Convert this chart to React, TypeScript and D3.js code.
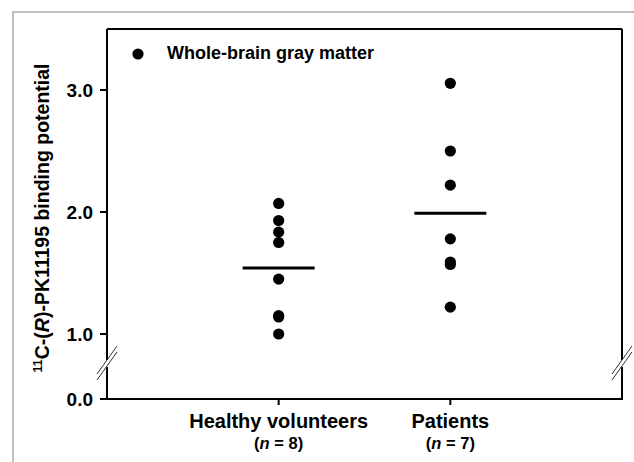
import React from 'react'
import * as d3 from 'd3'

const groups = ['Healthy volunteers', 'Patients']
const groupN = ['8', '7']
const healthy = [2.07, 1.93, 1.835, 1.75, 1.45, 1.15, 1.14, 1.0]
const patients = [3.055, 2.5, 2.22, 1.78, 1.59, 1.57, 1.22]
const yTicks = [1.0, 2.0, 3.0]
const legendLabel = 'Whole-brain gray matter'

const W = 634
const H = 462
const font = '"Liberation Sans", Arial, sans-serif'

export default function App() {
  const left = 107
  const right = 622
  const top = 29
  const bottom = 399
  const breakY = 363

  const x = d3.scalePoint<string>().domain(groups).range([left, right]).padding(1)
  const y = d3.scaleLinear().domain([1, 3.5]).range([334, top])
  const mean = (a: number[]) => d3.mean(a) as number
  const series = [healthy, patients]

  // zig marks where the axis is broken
  const breakMarks = (ax: number) => (
    <g stroke="#333" strokeWidth={1}>
      <line x1={ax - 10} y1={breakY + 11} x2={ax + 10} y2={breakY - 17} />
      <line x1={ax - 10} y1={breakY + 17} x2={ax + 10} y2={breakY - 11} />
    </g>
  )

  return (
    <svg width={W} height={H} style={{ position: 'absolute', left: 0, top: 0, background: '#fff' }} fontFamily={font}>
      <rect x={13} y={12} width={700} height={500} fill="none" stroke="#aaa" strokeWidth={1.5} />

      {/* axes frame */}
      <g stroke="#000" strokeWidth={2} fill="none">
        <line x1={left} y1={top} x2={right} y2={top} />
        <line x1={left - 1} y1={bottom} x2={right + 1} y2={bottom} />
        <line x1={left} y1={top} x2={left} y2={breakY - 3} />
        <line x1={left} y1={breakY + 4} x2={left} y2={bottom} />
        <line x1={right} y1={top} x2={right} y2={breakY - 3} />
        <line x1={right} y1={breakY + 4} x2={right} y2={bottom} />
        {yTicks.map(t => (
          <line key={t} x1={left - 7} x2={left} y1={y(t)} y2={y(t)} />
        ))}
        <line x1={left - 7} x2={left} y1={bottom} y2={bottom} />
        {groups.map(g => (
          <line key={g} x1={x(g)} x2={x(g)} y1={bottom} y2={bottom + 6} />
        ))}
      </g>
      {breakMarks(left)}
      {breakMarks(right)}

      {/* tick labels */}
      <g fontSize={19} fontWeight="bold" textAnchor="end">
        {yTicks.map(t => (
          <text key={t} x={left - 14} y={y(t) + 7}>{t.toFixed(1)}</text>
        ))}
        <text x={left - 14} y={bottom + 7}>0.0</text>
      </g>

      {groups.map((g, i) => (
        <g key={g} fontWeight="bold" textAnchor="middle">
          <text x={x(g)} y={428} fontSize={20}>{g}</text>
          <text x={x(g)} y={449} fontSize={16.5}>
            (<tspan fontStyle="italic">n</tspan> = {groupN[i]})
          </text>
        </g>
      ))}

      {/* y label */}
      <text
        transform={`translate(49,218) rotate(-90)`}
        textAnchor="middle"
        fontSize={19.5}
        fontWeight="bold"
      >
        <tspan fontSize={12.5} dy={-7}>11</tspan>
        <tspan dy={7}>C-(</tspan>
        <tspan fontStyle="italic">R</tspan>
        <tspan>)-PK11195 binding potential</tspan>
      </text>

      {/* data */}
      {series.map((s, i) => (
        <g key={groups[i]}>
          {s.map((v, j) => (
            <circle key={j} cx={x(groups[i])} cy={y(v)} r={5.6} fill="#000" />
          ))}
          <line
            x1={(x(groups[i]) as number) - 36}
            x2={(x(groups[i]) as number) + 36}
            y1={y(mean(s))}
            y2={y(mean(s))}
            stroke="#000"
            strokeWidth={3}
          />
        </g>
      ))}

      {/* legend */}
      <circle cx={138} cy={54} r={5.6} fill="#000" />
      <text x={167} y={59} fontSize={18} fontWeight="bold">{legendLabel}</text>
    </svg>
  )
}
